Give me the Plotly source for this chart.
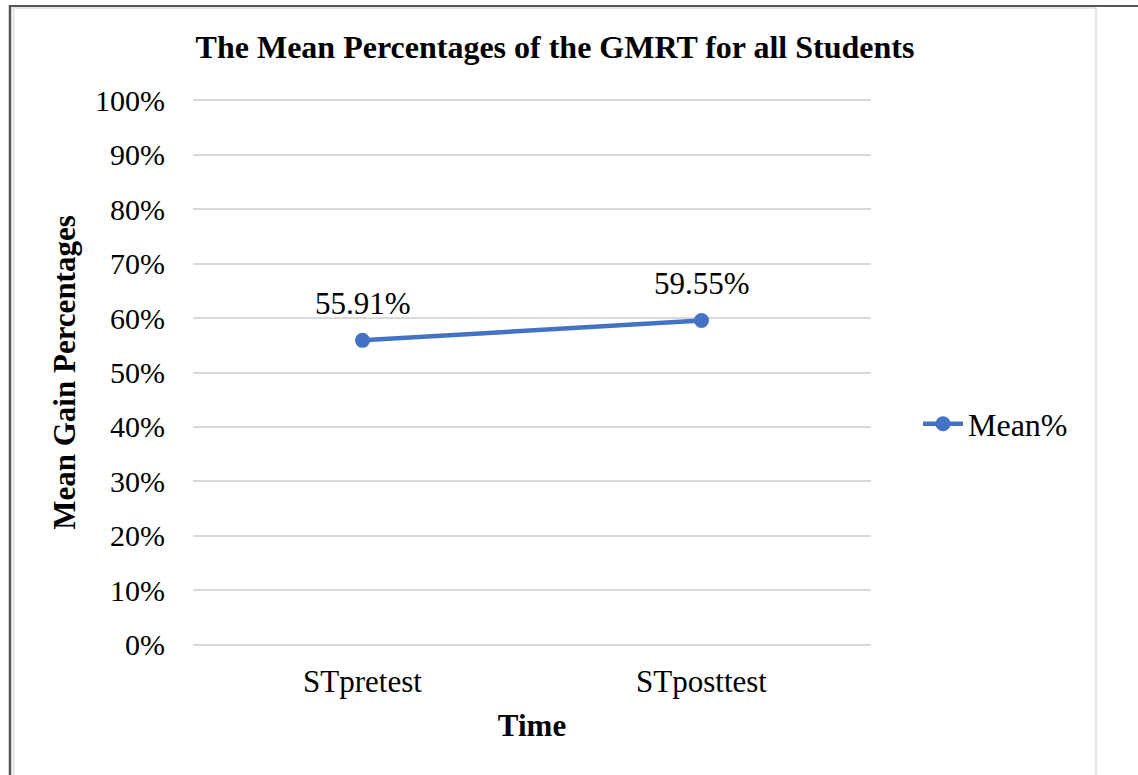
import plotly.graph_objects as go

categories = ["STpretest", "STposttest"]
mean_pct = [0.5591, 0.5955]
labels = ["55.91%", "59.55%"]
series_name = "Mean%"
y_ticks = [i / 10 for i in range(11)]

W, H = 1138, 775
# pixel positions of the category plot area and of the 0% / 100% gridlines
X0, X1 = 193, 871
Y100, Y0 = 100, 645
PAD = 0.01
UNIT = Y0 - Y100
T = Y100 - PAD * UNIT
B = Y0 + PAD * UNIT

def px(x):
    return (x - X0) / (X1 - X0)

def py(y):
    return (B - y) / (B - T)

FONT = "Liberation Serif"
BLUE = "#4472C4"

fig = go.Figure()
fig.add_trace(go.Scatter(
    x=categories, y=mean_pct, mode="lines+markers", name=series_name,
    line=dict(color=BLUE, width=4.5),
    marker=dict(color=BLUE, size=15),
))

for c, v, t in zip(categories, mean_pct, labels):
    fig.add_annotation(x=c, y=v, text=t, showarrow=False, yshift=37,
                       font=dict(family=FONT, size=31, color="#000000"))

shapes = [
    dict(type="line", xref="paper", yref="paper", x0=px(9), x1=px(1140), y0=py(5.5), y1=py(5.5),
         line=dict(color="#555555", width=2)),
    dict(type="line", xref="paper", yref="paper", x0=px(10), x1=px(10), y0=py(5), y1=py(776),
         line=dict(color="#555555", width=2.5)),
    dict(type="line", xref="paper", yref="paper", x0=px(13), x1=px(1096), y0=py(7.5), y1=py(7.5),
         line=dict(color="#dddddd", width=1.5)),
    dict(type="line", xref="paper", yref="paper", x0=px(13.5), x1=px(13.5), y0=py(7), y1=py(776),
         line=dict(color="#dddddd", width=1.5)),
    dict(type="line", xref="paper", yref="paper", x0=px(1096), x1=px(1096), y0=py(7), y1=py(776),
         line=dict(color="#dddddd", width=1.5)),
]

fig.update_layout(
    width=W, height=H,
    margin=dict(l=X0, r=W - X1, t=T, b=H - B),
    paper_bgcolor="white", plot_bgcolor="white",
    font=dict(family=FONT, size=31, color="#000000"),
    title=dict(text="<b>The Mean Percentages of the GMRT for all Students</b>",
               x=555 / W, xanchor="center", y=1 - 47 / H, yanchor="middle",
               font=dict(family=FONT, size=32, color="#000000")),
    xaxis=dict(showgrid=False, showline=False, zeroline=False, ticks="",
               range=[-0.5, 1.5],
               tickfont=dict(family=FONT, size=31, color="#000000"), ticklabelstandoff=10,
               title=dict(text="<b>Time</b>", font=dict(family=FONT, size=31, color="#000000"), standoff=16)),
    yaxis=dict(range=[-PAD, 1 + PAD], tickvals=y_ticks, tickformat=".0%",
               showgrid=True, gridcolor="#d9d9d9", gridwidth=1.5,
               zeroline=False, showline=False, ticks="",
               tickfont=dict(family=FONT, size=30, color="#000000"), ticklabelstandoff=27,
               title=dict(text="<b>Mean Gain Percentages</b>", font=dict(family=FONT, size=31, color="#000000"), standoff=10)),
    showlegend=True,
    legend=dict(x=px(918), xanchor="left", y=py(424), yanchor="middle",
                font=dict(family=FONT, size=32, color="#000000"), bgcolor="rgba(0,0,0,0)", itemwidth=40,
                tracegroupgap=0),
    shapes=shapes,
)

fig.write_html("out.html", config={"displayModeBar": False},
               post_script="document.body.style.margin='0';document.body.style.overflow='hidden';")
